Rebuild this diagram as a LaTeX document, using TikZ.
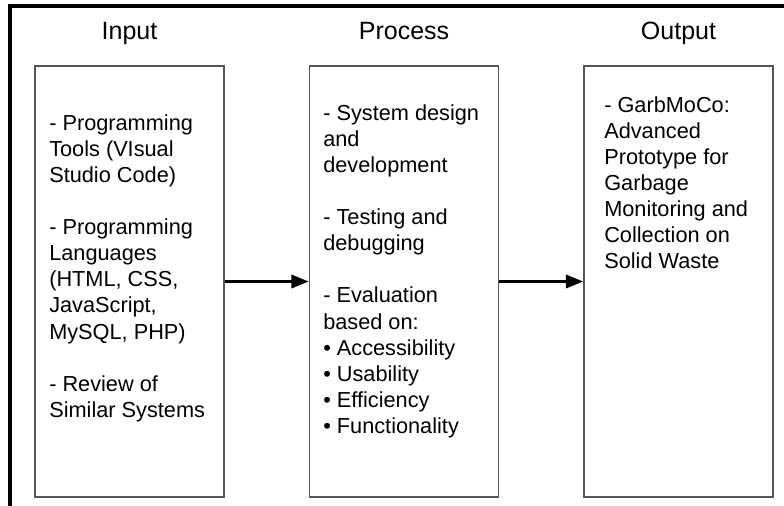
\documentclass[tikz,border=0pt]{standalone}
\usepackage{fontspec}
\setmainfont{Liberation Sans}
\usetikzlibrary{positioning, arrows.meta}
\definecolor{framegray}{RGB}{85, 85, 85}

\begin{document}
\begin{tikzpicture}[x=0.75pt, y=-0.75pt,
                stagebox/.style={draw=framegray, line width=1.2pt,
                    minimum width=141.75pt, minimum height=323.25pt, inner sep=0pt},
                stagetitle/.style={font=\fontsize{18.75}{22}\selectfont, inner sep=0pt},
                stagetext/.style={font=\fontsize{16.3}{19.6}\selectfont,
                    align=left, anchor=north west, inner sep=0pt},
                flow/.style={-{Triangle[length=13pt, width=10pt]}, line width=1.9pt}
            ]
            \useasboundingbox (0,0) rectangle (784,506);

            % outer frame
            \draw[line width=2.4pt] (10,506) -- (10,6) -- (784,6);

            % Input
            \node[stagebox] (inbox) at (129.5, 281.5) {};
            \node[stagetitle, above=19.5pt of inbox, anchor=base] (intitle) {Input};
            \node[stagetext] (intext) at (49, 114)
                {- Programming\\
                 Tools (VIsual\\
                 Studio Code)\\[19.6pt]
                 - Programming\\
                 Languages\\
                 (HTML, CSS,\\
                 JavaScript,\\
                 MySQL, PHP)\\[19.6pt]
                 - Review of\\
                 Similar Systems};

            % Process
            \node[stagebox] (procbox) at (404, 281.5) {};
            \node[stagetitle, above=19.5pt of procbox, anchor=base] (proctitle) {Process};
            \node[stagetext] (proctext) at (323, 104)
                {- System design\\
                 and\\
                 development\\[19.6pt]
                 - Testing and\\
                 debugging\\[19.6pt]
                 - Evaluation\\
                 based on:\\
                 • Accessibility\\
                 • Usability\\
                 • Efficiency\\
                 • Functionality};

            % Output
            \node[stagebox] (outbox) at (678.5, 281.5) {};
            \node[stagetitle, above=19.5pt of outbox, anchor=base] (outtitle) {Output};
            \node[stagetext] (outtext) at (604, 96)
                {- GarbMoCo:\\
                 Advanced\\
                 Prototype for\\
                 Garbage\\
                 Monitoring and\\
                 Collection on\\
                 Solid Waste};

            % arrows
            \draw[flow] (inbox) -- (procbox);
            \draw[flow] (procbox) -- (outbox);

            \end{tikzpicture}
\end{document}
